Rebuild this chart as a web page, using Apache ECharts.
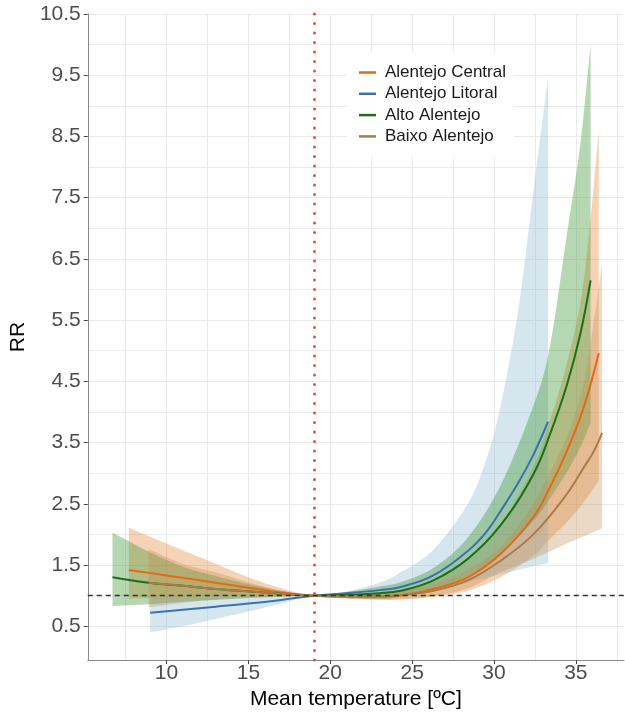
<!DOCTYPE html>
<html>
<head>
<meta charset="utf-8">
<script src="https://cdn.jsdelivr.net/npm/echarts@6/dist/echarts.min.js"></script>
<style>
html,body{margin:0;padding:0;background:#fff;}
#chart{width:625px;height:715px;}
</style>
</head>
<body>
<div id="chart"></div>
<script>
// ---------------- data ----------------
const regions = ['Alentejo Central', 'Alentejo Litoral', 'Alto Alentejo', 'Baixo Alentejo'];

const centralTemp = [7.7, 10, 13, 15, 17, 19, 21, 23, 24.3, 26.3, 28.4, 30.4, 32.4, 33.4, 34.45, 35.46, 36.4];
const centralRR   = [1.42, 1.33, 1.21, 1.13, 1.05, 1.00, 0.98, 0.98, 1.00, 1.11, 1.30, 1.68, 2.28, 2.76, 3.36, 4.06, 4.96];
const centralLow  = [0.95, 0.97, 0.99, 0.99, 0.99, 1.00, 0.96, 0.94, 0.94, 0.98, 1.08, 1.30, 1.65, 1.92, 2.20, 2.52, 2.88];
const centralHigh = [2.11, 1.85, 1.52, 1.30, 1.12, 1.00, 1.01, 1.03, 1.07, 1.24, 1.57, 2.15, 3.10, 3.85, 4.80, 6.10, 8.59];

const litoralTemp = [9.0, 11, 13, 15, 17, 19, 21, 23, 24.3, 26.3, 28.4, 29.5, 30.4, 31.5, 32.4, 33.3];
const litoralRR   = [0.72, 0.77, 0.82, 0.87, 0.93, 1.00, 1.04, 1.09, 1.14, 1.33, 1.73, 2.03, 2.38, 2.85, 3.30, 3.84];
const litoralLow  = [0.40, 0.50, 0.62, 0.74, 0.87, 1.00, 0.99, 0.98, 0.99, 1.08, 1.22, 1.29, 1.35, 1.42, 1.48, 1.53];
const litoralHigh = [0.98, 0.98, 0.99, 0.99, 1.00, 1.00, 1.07, 1.21, 1.38, 1.75, 2.50, 3.20, 4.10, 5.70, 7.60, 9.46];

const altoTemp = [6.7, 8.9, 11, 13, 15, 17, 19, 21, 23, 24.3, 26.3, 28.4, 30.4, 32.4, 33.4, 34.45, 35.26, 35.9];
const altoRR   = [1.30, 1.21, 1.16, 1.11, 1.07, 1.03, 1.00, 1.01, 1.04, 1.08, 1.25, 1.60, 2.15, 2.98, 3.62, 4.44, 5.26, 6.15];
const altoLow  = [0.83, 0.86, 0.90, 0.93, 0.96, 0.98, 1.00, 0.96, 0.95, 0.98, 1.10, 1.32, 1.68, 2.22, 2.58, 3.02, 3.42, 3.82];
const altoHigh = [2.03, 1.72, 1.47, 1.32, 1.19, 1.08, 1.00, 1.06, 1.15, 1.22, 1.45, 1.95, 2.80, 4.10, 5.05, 6.90, 8.35, 10.0];

const baixoTemp = [8.9, 11, 13, 15, 17, 19, 21, 23, 24.3, 26.3, 28.4, 30.4, 32.4, 34.45, 35.5, 36.1, 36.6];
const baixoRR   = [1.21, 1.16, 1.11, 1.07, 1.03, 1.00, 0.99, 0.99, 1.01, 1.08, 1.25, 1.57, 2.00, 2.66, 3.10, 3.36, 3.66];
const baixoLow  = [0.81, 0.88, 0.94, 0.97, 0.99, 1.00, 0.95, 0.93, 0.94, 0.99, 1.12, 1.38, 1.60, 1.85, 1.97, 2.04, 2.10];
const baixoHigh = [1.76, 1.52, 1.38, 1.22, 1.08, 1.00, 1.03, 1.06, 1.09, 1.20, 1.42, 1.80, 2.50, 3.60, 4.50, 5.50, 6.42];

const xTickLabels = [10, 15, 20, 25, 30, 35];
const xGridValues = [7.5, 10, 12.5, 15, 17.5, 20, 22.5, 25, 27.5, 30, 32.5, 35, 37.5];
const yTickLabels = [0.5, 1.5, 2.5, 3.5, 4.5, 5.5, 6.5, 7.5, 8.5, 9.5, 10.5];
const yGridValues = [0.5, 1, 1.5, 2, 2.5, 3, 3.5, 4, 4.5, 5, 5.5, 6, 6.5, 7, 7.5, 8, 8.5, 9, 9.5, 10, 10.5];
const referenceRR = 1;
const mmtTemp = 19;

// ---------------- styling ----------------
const lineColors = ['#E26A12', '#3B72A8', '#1B6F14', '#AD7A48'];
const ribbonColors = ['rgba(230,120,30,0.33)', 'rgba(140,185,210,0.36)', 'rgba(60,150,50,0.38)', 'rgba(190,140,80,0.33)'];
const FONT = 'Liberation Sans, Arial, Helvetica, sans-serif';

const groups = [
  [centralTemp, centralRR, centralLow, centralHigh],
  [litoralTemp, litoralRR, litoralLow, litoralHigh],
  [altoTemp, altoRR, altoLow, altoHigh],
  [baixoTemp, baixoRR, baixoLow, baixoHigh]
];

function spline(pts, seg) {
  const out = [];
  const n = pts.length;
  for (let i = 0; i < n - 1; i++) {
    const p0 = pts[Math.max(i - 1, 0)], p1 = pts[i], p2 = pts[i + 1], p3 = pts[Math.min(i + 2, n - 1)];
    for (let s = 0; s < seg; s++) {
      const t = s / seg, t2 = t * t, t3 = t2 * t;
      const f = (a, b, c, d) => 0.5 * ((2 * b) + (-a + c) * t + (2 * a - 5 * b + 4 * c - d) * t2 + (-a + 3 * b - 3 * c + d) * t3);
      out.push([f(p0[0], p1[0], p2[0], p3[0]), f(p0[1], p1[1], p2[1], p3[1])]);
    }
  }
  out.push(pts[n - 1]);
  return out;
}

function ribbonSeries(k) {
  const [temps, rr, lo, hi] = groups[k];
  return {
    type: 'custom',
    name: 'ribbon' + k,
    z: 2,
    silent: true,
    data: temps.map((t, i) => [t, lo[i], hi[i]]),
    encode: { x: 0, y: [1, 2] },
    renderItem: function (params, api) {
      if (params.dataIndex !== 0) return null;
      const up = temps.map((t, i) => api.coord([t, hi[i]]));
      const dn = temps.map((t, i) => api.coord([t, lo[i]])).reverse();
      const pts = spline(up, 10).concat(spline(dn, 10));
      return { type: 'polygon', shape: { points: pts }, style: { fill: ribbonColors[k] } };
    }
  };
}

function lineSeries(k) {
  const [temps, rr] = groups[k];
  return {
    type: 'line',
    name: regions[k],
    z: 4,
    data: temps.map((t, i) => [t, rr[i]]),
    smooth: 0.4,
    showSymbol: false,
    symbol: 'none',
    lineStyle: { color: lineColors[k], width: 2 },
    itemStyle: { color: lineColors[k] },
    silent: true
  };
}

const series = [];
series.push({
  type: 'line', name: 'ref', z: 1, data: [[mmtTemp, referenceRR]], showSymbol: false, symbol: 'none',
  lineStyle: { opacity: 0 }, silent: true,
  markLine: {
    silent: true, symbol: 'none', label: { show: false },
    lineStyle: { color: '#333', type: [5, 4], width: 1.3 },
    data: [{ yAxis: referenceRR }]
  }
});
for (let k = 0; k < 4; k++) series.push(ribbonSeries(k));
for (let k = 0; k < 4; k++) series.push(lineSeries(k));
series.push({
  type: 'line', name: 'mmt', z: 5, data: [[mmtTemp, referenceRR]], showSymbol: false, symbol: 'none',
  lineStyle: { opacity: 0 }, silent: true,
  markLine: {
    silent: true, symbol: 'none', label: { show: false },
    lineStyle: { color: '#E0533C', type: [0.1, 9.4], width: 3, cap: 'round' },
    data: [{ xAxis: mmtTemp }]
  }
});

const X_MIN = 5.19, X_MAX = 37.94, Y_MIN = -0.053, Y_MAX = 10.5;

const option = {
  animation: false,
  backgroundColor: '#ffffff',
  grid: { left: 86, right: 1, top: 14, bottom: 51, containLabel: false },
  legend: {
    data: regions,
    orient: 'vertical',
    left: 347, top: 52,
    padding: [12, 8, 12, 12],
    itemGap: 4.3,
    itemWidth: 17, itemHeight: 2.5,
    icon: 'rect',
    backgroundColor: '#ffffff',
    textStyle: { fontFamily: FONT, fontSize: 17, color: '#1a1a1a', padding: [0, 0, 0, 4] }
  },
  xAxis: [
    {
      type: 'value', min: X_MIN, max: X_MAX,
      name: 'Mean temperature [ºC]', nameLocation: 'middle', nameGap: 32,
      nameTextStyle: { fontFamily: FONT, fontSize: 21, color: '#000', verticalAlign: 'middle' },
      axisLine: { show: true, onZero: false, lineStyle: { color: '#8a8a8a', width: 1 } },
      axisTick: { show: true, length: 4, customValues: xTickLabels, lineStyle: { color: '#444' } },
      axisLabel: { customValues: xTickLabels, fontFamily: FONT, fontSize: 21, color: '#4d4d4d', margin: 3 },
      splitLine: { show: false }
    },
    {
      type: 'value', min: X_MIN, max: X_MAX, position: 'top',
      axisLine: { show: false }, axisLabel: { show: false },
      axisTick: { show: false, customValues: xGridValues },
      splitLine: { show: true, lineStyle: { color: '#EAEAEA', width: 1 } }
    }
  ],
  yAxis: [
    {
      type: 'value', min: Y_MIN, max: Y_MAX,
      name: 'RR', nameLocation: 'middle', nameGap: 64,
      nameTextStyle: { fontFamily: FONT, fontSize: 21, color: '#000', verticalAlign: 'middle' },
      axisLine: { show: true, onZero: false, lineStyle: { color: '#8a8a8a', width: 1 } },
      axisTick: { show: true, length: 4, customValues: yTickLabels, lineStyle: { color: '#444' } },
      axisLabel: { customValues: yTickLabels, fontFamily: FONT, fontSize: 21, color: '#4d4d4d', margin: 7,
        formatter: v => v.toFixed(1) },
      splitLine: { show: false }
    },
    {
      type: 'value', min: Y_MIN, max: Y_MAX, position: 'right',
      axisLine: { show: false }, axisLabel: { show: false },
      axisTick: { show: false, customValues: yGridValues },
      splitLine: { show: true, lineStyle: { color: '#EAEAEA', width: 1 } }
    }
  ],
  series: series
};

const chart = echarts.init(document.getElementById('chart'), null, { renderer: 'canvas' });
chart.setOption(option);
</script>
</body>
</html>
